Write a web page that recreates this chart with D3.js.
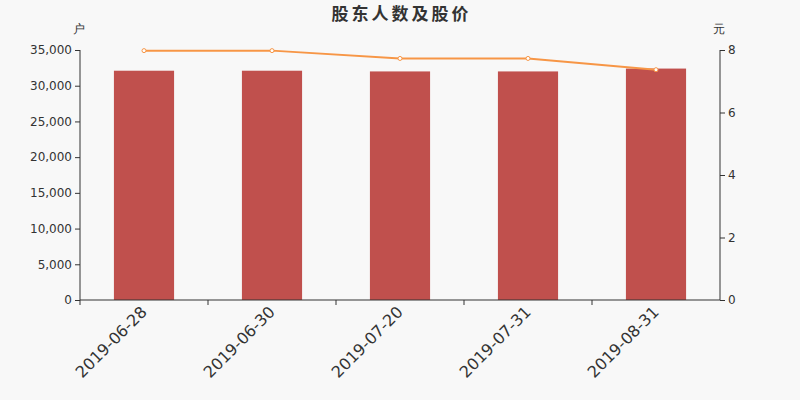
<!DOCTYPE html>
<html lang="zh">
<head>
<meta charset="utf-8">
<title>股东人数及股价</title>
<script src="https://cdn.jsdelivr.net/npm/d3@7"></script>
<style>
  body { margin: 0; background: #f8f8f8; }
  svg { font-family: "DejaVu Sans", sans-serif; }
  .axis path, .axis line { stroke: #333; }
  .axis text { fill: #333; font-family: "DejaVu Sans", sans-serif; }
  .tick text { font-size: 12px; }
  text.lab { font-size: 16px; }
</style>
</head>
<body>
<script>
// data
var dates = ["2019-06-28", "2019-06-30", "2019-07-20", "2019-07-31", "2019-08-31"];
var holders = [32100, 32100, 32000, 32000, 32400];
var prices = [7.98, 7.98, 7.73, 7.73, 7.37];
var leftTicks = [0, 5000, 10000, 15000, 20000, 25000, 30000, 35000];
var rightTicks = [0, 2, 4, 6, 8];

var w = 800, h = 400;
var m = { top: 50, right: 80, bottom: 100, left: 80 };

var svg = d3.select("body").append("svg")
  .attr("width", w).attr("height", h);

svg.append("rect").attr("width", w).attr("height", h).attr("fill", "#f8f8f8");

var x = d3.scaleBand().domain(dates).range([m.left, w - m.right]).paddingInner(0.53).paddingOuter(0.265);
var yL = d3.scaleLinear().domain([0, 35000]).range([h - m.bottom, m.top]);
var yR = d3.scaleLinear().domain([0, 8]).range([h - m.bottom, m.top]);

// title
svg.append("text").attr("x", w / 2 + 1.5).attr("y", 20)
  .attr("text-anchor", "middle").attr("font-size", 17).attr("font-weight", "bold")
  .attr("letter-spacing", 3)
  .attr("font-family", "'Noto Sans CJK SC', sans-serif")
  .attr("fill", "#333").text("股东人数及股价");

// bars
svg.selectAll("rect.bar").data(holders).enter().append("rect")
  .attr("class", "bar")
  .attr("x", function(d, i) { return x(dates[i]); })
  .attr("width", x.bandwidth())
  .attr("y", function(d) { return yL(d); })
  .attr("height", function(d) { return yL(0) - yL(d); })
  .attr("fill", "#c0504d");

// left axis
var gl = svg.append("g").attr("class", "axis")
  .attr("transform", "translate(" + m.left + ",0)")
  .call(d3.axisLeft(yL).tickValues(leftTicks).tickSize(5).tickPadding(3).tickFormat(d3.format(",")));
gl.select(".domain").attr("d", "M0," + yL(0) + "V" + yL(35000));

// right axis
var gr = svg.append("g").attr("class", "axis")
  .attr("transform", "translate(" + (w - m.right) + ",0)")
  .call(d3.axisRight(yR).tickValues(rightTicks).tickSize(5).tickPadding(3));
gr.select(".domain").attr("d", "M0," + yR(0) + "V" + yR(8));

// bottom axis: ticks on band boundaries
var gb = svg.append("g").attr("class", "axis")
  .attr("transform", "translate(0," + (h - m.bottom) + ")");
gb.append("line").attr("x1", m.left).attr("x2", w - m.right).attr("y1", 0).attr("y2", 0);
var step = x.step();
dates.forEach(function(d, i) {
  var bx = m.left + i * step;
  gb.append("line").attr("x1", bx).attr("x2", bx).attr("y1", 0).attr("y2", 5);
});
gb.selectAll("text.lab").data(dates).enter().append("text")
  .attr("class", "lab")
  .attr("text-anchor", "end")
  .attr("transform", function(d) {
    var cx = x(d) + x.bandwidth() / 2 + 4;
    return "translate(" + cx + ",13) rotate(-45)";
  })
  .text(function(d) { return d; });

// units
svg.append("text").attr("x", 79).attr("y", 33).attr("text-anchor", "middle")
  .attr("font-size", 12).attr("fill", "#333").text("户");
svg.append("text").attr("x", 719).attr("y", 33).attr("text-anchor", "middle")
  .attr("font-size", 12).attr("fill", "#333").text("元");

// price line
var line = d3.line()
  .x(function(d, i) { return x(dates[i]) + x.bandwidth() / 2; })
  .y(function(d) { return yR(d); });
svg.append("path").datum(prices)
  .attr("d", line).attr("fill", "none")
  .attr("stroke", "#f79646").attr("stroke-width", 2);
svg.selectAll("circle.pt").data(prices).enter().append("circle")
  .attr("class", "pt")
  .attr("cx", function(d, i) { return x(dates[i]) + x.bandwidth() / 2; })
  .attr("cy", function(d) { return yR(d); })
  .attr("r", 2)
  .attr("fill", "#fff").attr("stroke", "#f79646").attr("stroke-width", 1);
</script>
</body>
</html>
